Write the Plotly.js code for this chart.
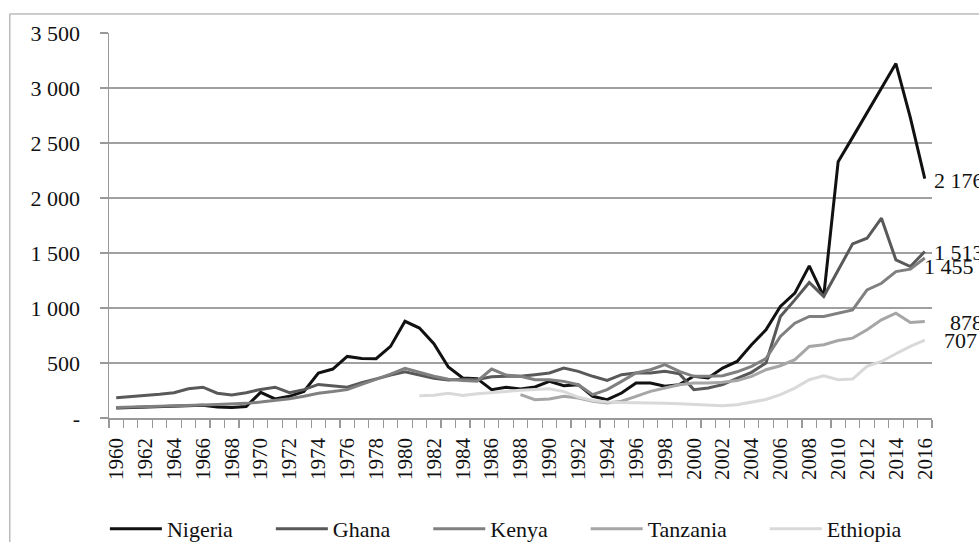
<!DOCTYPE html>
<html>
<head>
<meta charset="utf-8">
<script src="https://cdn.plot.ly/plotly-3.0.1.min.js"></script>
<style>html,body{margin:0;padding:0;background:#fff;}#chart{width:979px;height:542px;}</style>
</head>
<body>
<div id="chart"></div>
<script>
var years = [];
for (var y = 1960; y <= 2016; y++) years.push(y);

var nigeria = [90,95,100,103,108,112,115,100,95,105,
  233,173,197,242,409,445,560,542,539,651,
  879,818,676,464,364,358,258,280,264,282,
  333,294,303,197,167,227,318,318,288,303,
  379,364,454,514,666,802,1014,1135,1383,1105,
  2330,2551,2777,3000,3222,2730,2176];
var ghana = [185,195,200,215,230,265,280,225,210,230,
  260,280,230,258,305,295,280,320,358,390,
  420,390,362,345,352,350,375,379,379,394,
  409,454,424,379,342,394,409,409,424,403,
  258,273,303,360,415,500,923,1074,1232,1105,
  1347,1583,1634,1816,1437,1377,1513];
var kenya = [95,98,100,104,108,110,118,122,127,133,
  145,158,176,198,225,240,258,305,350,398,
  452,415,380,352,340,335,445,390,379,348,
  348,333,303,212,258,333,409,439,485,424,
  379,379,385,420,469,540,741,862,923,923,
  953,983,1165,1225,1331,1353,1455];
var tanzania = [null,null,null,null,null,null,null,null,null,null,
  null,null,null,null,null,null,null,null,null,null,
  null,null,null,null,null,null,null,null,212,167,
  173,197,182,152,136,152,197,242,273,303,
  318,318,325,340,378,439,475,530,651,666,
  705,726,802,893,953,868,878];
var ethiopia = [null,null,null,null,null,null,null,null,null,null,
  null,null,null,null,null,null,null,null,null,null,
  null,203,206,225,205,220,232,245,252,260,
  265,240,190,160,145,140,140,140,135,130,
  125,121,112,121,142,168,212,272,348,384,
  348,354,469,514,584,651,707];

var seriesNames = ["Nigeria","Ghana","Kenya","Tanzania","Ethiopia"];
var seriesColors = ["#111111","#595959","#808080","#a6a6a6","#d9d9d9"];
var seriesData = [nigeria, ghana, kenya, tanzania, ethiopia];
var endLabels = ["2 176","1 513","1 455","878","707"];

var yTickVals = [0,500,1000,1500,2000,2500,3000,3500];
var yTickText = ["-","500","1 000","1 500","2 000","2 500","3 000","3 500"];
var xTickVals = [];
for (var t = 1960; t <= 2016; t += 2) xTickVals.push(t);
var xTickText = xTickVals.map(String);

var pad = "\u00a0\u00a0\u00a0\u00a0\u00a0\u00a0";
var traces = seriesNames.map(function(n, i){
  return {x: years, y: seriesData[i], name: n + (i < seriesNames.length - 1 ? pad : ""), type: 'scatter', mode: 'lines',
    line: {color: seriesColors[i], width: 3}, connectgaps: false};
});

var FONT = "Liberation Serif, Times New Roman, serif";
var labelShift = [[7,-2],[7,-1],[-3,-9],[23,-1],[17,0]];
var annotations = seriesNames.map(function(n, i){
  var d = seriesData[i];
  return {x: years[years.length-1], y: d[d.length-1], xref:'x', yref:'y', text: endLabels[i],
    showarrow:false, xanchor:'left', yanchor:'middle', xshift: labelShift[i][0], yshift: labelShift[i][1],
    font:{family:FONT, size:22, color:'#111'}};
});

var layout = {
  width: 979, height: 542,
  margin: {l:109, r:47, t:33, b:124, autoexpand:false},
  paper_bgcolor:'#fff', plot_bgcolor:'#fff',
  font: {family: FONT, size: 21, color:'#111'},
  showlegend: true,
  legend: {orientation:'h', x:-0.005, xanchor:'left', y:-0.288, yanchor:'middle',
    font:{family:FONT, size:22, color:'#111'}, itemwidth: 52, tracegroupgap:0},
  xaxis: {type:'linear', range:[1959.5, 2016.5], tickmode:'array', tickvals:xTickVals, ticktext:xTickText,
    tickangle:-90, ticks:'', showgrid:false, zeroline:false, showline:true, linecolor:'#999', linewidth:1.5,
    ticklabelstandoff: 10, automargin:false,
    minor:{ticks:'outside', ticklen:8, tickcolor:'#999', tickwidth:1.2, tick0:1959.5, dtick:1, showgrid:false},
    tickfont:{family:FONT, size:21, color:'#111'}, fixedrange:true},
  yaxis: {range:[0,3500], tickmode:'array', tickvals:yTickVals, ticktext:yTickText, automargin:false,
    ticks:'outside', ticklen:8, tickcolor:'#999', tickwidth:1.2, showline:true, linecolor:'#999', linewidth:1.5,
    showgrid:true, gridcolor:'#a0a0a0', gridwidth:1.5, zeroline:false, ticklabelstandoff: 15,
    tickfont:{family:FONT, size:22, color:'#111'}, fixedrange:true},
  annotations: annotations,
  shapes: [{type:'rect', xref:'paper', yref:'paper', x0:-0.1205, x1:1.2, y0:-0.5, y1:1.0494,
    line:{color:'#999', width:1}, fillcolor:'rgba(0,0,0,0)', layer:'below'}]
};

Plotly.newPlot('chart', traces, layout, {staticPlot:true, displayModeBar:false});
</script>
</body>
</html>
